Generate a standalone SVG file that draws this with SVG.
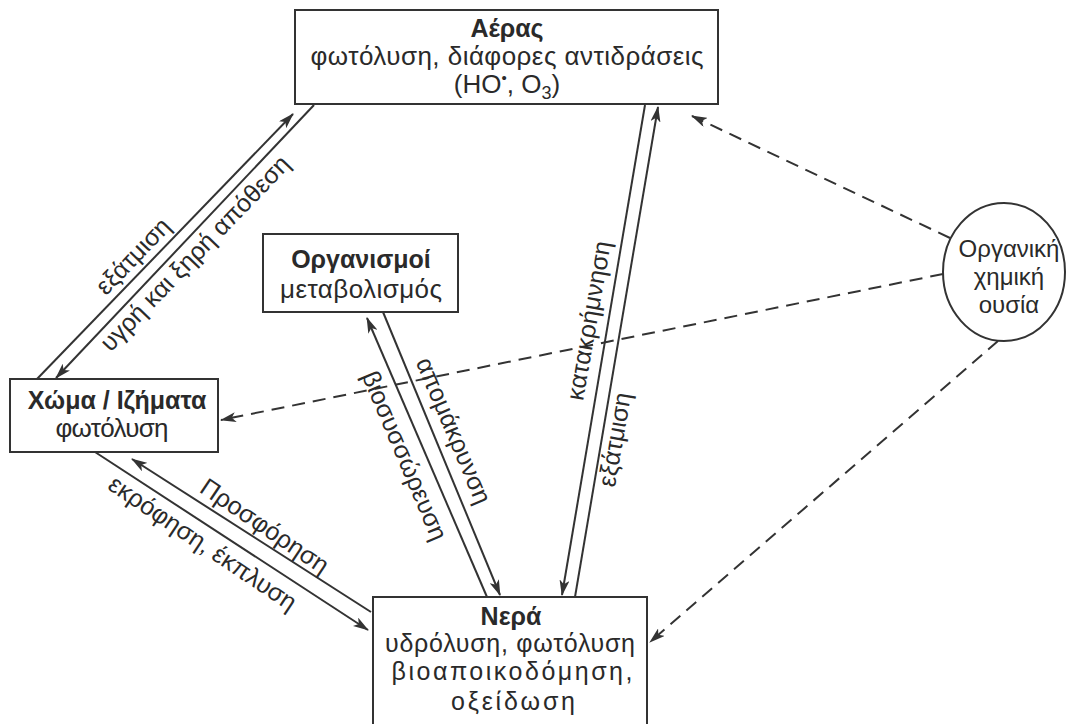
<svg xmlns="http://www.w3.org/2000/svg" width="1066" height="724" viewBox="0 0 1066 724">
<defs>
<style>
.box{fill:#fff;stroke:#333;stroke-width:2}
.t{font-family:"Liberation Sans",Arial,sans-serif;font-size:26px;fill:#2a2a2a;text-anchor:middle}
.b{font-weight:bold;font-size:25px}
.c{font-size:24px}
.w{font-size:25px}
.lbl{font-family:"Liberation Sans",Arial,sans-serif;font-size:25px;fill:#2a2a2a;text-anchor:middle}
.ln{stroke:#333;stroke-width:2;fill:none}
.dash{stroke:#333;stroke-width:2;fill:none;stroke-dasharray:13 8}
</style>
<marker id="ah" viewBox="0 0 16 10" refX="15" refY="5" markerWidth="16" markerHeight="10" markerUnits="userSpaceOnUse" orient="auto">
<path d="M0,0 L16,5 L0,10 L4,5 Z" fill="#333"/>
</marker>
</defs>
<rect width="1066" height="724" fill="#fff"/>
<g id="connectors">
<line class="ln" x1="37" y1="379" x2="293" y2="114" marker-end="url(#ah)"/>
<line class="ln" x1="314" y1="105" x2="56" y2="378" marker-end="url(#ah)"/>
<line class="ln" x1="645" y1="105" x2="562" y2="595" marker-end="url(#ah)"/>
<line class="ln" x1="575" y1="597" x2="658" y2="107" marker-end="url(#ah)"/>
<line class="ln" x1="487" y1="597" x2="367" y2="318" marker-end="url(#ah)"/>
<line class="ln" x1="383" y1="312" x2="500" y2="595" marker-end="url(#ah)"/>
<line class="ln" x1="371" y1="612" x2="132" y2="459" marker-end="url(#ah)"/>
<line class="ln" x1="95" y1="452" x2="368" y2="630" marker-end="url(#ah)"/>
<line class="dash" x1="950" y1="238" x2="692" y2="116" marker-end="url(#ah)"/>
<line class="dash" x1="943" y1="274" x2="221" y2="420" marker-end="url(#ah)"/>
<line class="dash" x1="998" y1="341" x2="650" y2="642" marker-end="url(#ah)"/>
<text class="lbl" transform="translate(139,262) rotate(-46)">εξάτμιση</text>
<text class="lbl" transform="translate(201,259) rotate(-46)">υγρή και ξηρή απόθεση</text>
<text class="lbl" transform="translate(597,322) rotate(-80)">κατακρήμνηση</text>
<text class="lbl" transform="translate(623,441) rotate(-80)">εξάτμιση</text>
<text class="lbl" transform="translate(446,434) rotate(67)">απομάκρυνση</text>
<text class="lbl" transform="translate(397,459) rotate(67)">βιοσυσσώρευση</text>
<text class="lbl" transform="translate(260,533) rotate(34)">Προσφόρηση</text>
<text class="lbl" transform="translate(198,550) rotate(34)">εκρόφηση, έκπλυση</text>
</g>
<g id="air">
<rect class="box" x="295" y="10" width="423" height="94"/>
<text class="t b" x="507" y="37">Αέρας</text>
<text class="t" x="507" y="65" textLength="393">φωτόλυση, διάφορες αντιδράσεις</text>
<text class="t" x="507" y="93">(HO<tspan font-size="15" dy="-10">•</tspan><tspan dy="10">, O</tspan><tspan font-size="18" dy="6">3</tspan><tspan dy="-6">)</tspan></text>
</g>
<g id="organisms">
<rect class="box" x="263" y="234" width="195" height="78"/>
<text class="t b" x="361" y="268">Οργανισμοί</text>
<text class="t" x="361" y="298" textLength="162">μεταβολισμός</text>
</g>
<g id="soil">
<rect class="box" x="10" y="379" width="208" height="73"/>
<text class="t b" x="117" y="409">Χώμα / Ιζήματα</text>
<text class="t" x="112" y="437" textLength="113">φωτόλυση</text>
</g>
<g id="water">
<rect class="box" x="373" y="597" width="274" height="150"/>
<text class="t b" x="511" y="625">Νερά</text>
<text class="t w" x="510" y="652" textLength="250">υδρόλυση, φωτόλυση</text>
<text class="t w" x="512" y="680" textLength="241">βιοαποικοδόμηση,</text>
<text class="t w" x="513" y="710" textLength="124">οξείδωση</text>
</g>
<g id="chemical">
<ellipse cx="1004" cy="272" rx="61" ry="69" fill="#fff" stroke="#333" stroke-width="2"/>
<text class="t c" x="1009" y="257">Οργανική</text>
<text class="t c" x="1009" y="285">χημική</text>
<text class="t c" x="1009" y="313">ουσία</text>
</g>
</svg>
